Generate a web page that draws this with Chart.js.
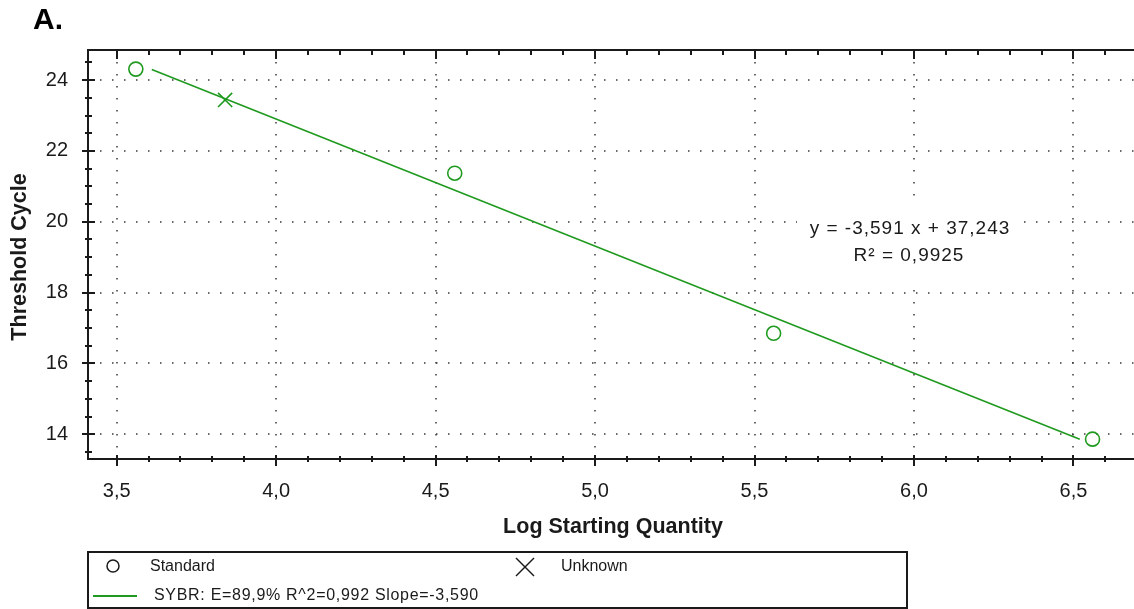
<!DOCTYPE html>
<html>
<head>
<meta charset="utf-8">
<script src="https://cdn.jsdelivr.net/npm/chart.js@4.4.1/dist/chart.umd.min.js"></script>
<style>
  html, body { margin: 0; padding: 0; background: #fff; }
  #curve { display: block; }
</style>
</head>
<body>
<canvas id="curve" width="1134" height="609"></canvas>
<script>
// standard curve data
const standardX = [3.56, 4.56, 5.56, 6.56];
const standardY = [24.31, 21.37, 16.85, 13.86];
const unknownX = [3.84];
const unknownY = [23.44];
const fitX = [3.61, 6.52];
const fitY = [24.30, 13.86];

const xTickValues = [3.5, 4.0, 4.5, 5.0, 5.5, 6.0, 6.5];
const yTickValues = [14, 16, 18, 20, 22, 24];

const equationText = 'y = -3,591 x + 37,243';
const r2Text = 'R² = 0,9925';
const legendStandard = 'Standard';
const legendUnknown = 'Unknown';
const legendFit = 'SYBR: E=89,9% R^2=0,992 Slope=-3,590';

const GREEN = '#1f9a1f';
const INK = '#1a1a1a';
const FONT = '"Liberation Sans", Arial, sans-serif';

const toPoints = (xs, ys) => xs.map((x, i) => ({ x: x, y: ys[i] }));

const frame = {
  id: 'frame',
  beforeDraw(chart) {
    const ctx = chart.ctx;
    ctx.save();
    ctx.fillStyle = '#fff';
    ctx.fillRect(0, 0, chart.width, chart.height);
    ctx.restore();
  },
  beforeDatasetsDraw(chart) {
    const { ctx, chartArea: a, scales: { x, y } } = chart;
    ctx.save();
    // dotted grid
    ctx.strokeStyle = '#3a3a3a';
    ctx.lineWidth = 1.5;
    ctx.setLineDash([1.5, 10.5]);
    xTickValues.forEach((v) => {
      const px = Math.round(x.getPixelForValue(v));
      ctx.beginPath();
      ctx.moveTo(px, a.top);
      ctx.lineTo(px, a.bottom);
      ctx.stroke();
    });
    yTickValues.forEach((v) => {
      const py = Math.round(y.getPixelForValue(v));
      ctx.beginPath();
      ctx.moveTo(a.left, py);
      ctx.lineTo(a.right, py);
      ctx.stroke();
    });
    ctx.setLineDash([]);
    // white box behind the equation
    ctx.fillStyle = '#fff';
    ctx.fillRect(797, 200, 226, 83);
    ctx.restore();
  },
  afterDraw(chart) {
    const { ctx, chartArea: a, scales: { x, y } } = chart;
    ctx.save();
    ctx.strokeStyle = INK;
    ctx.lineWidth = 2;
    const seg = (x1, y1, x2, y2) => {
      ctx.beginPath();
      ctx.moveTo(x1, y1);
      ctx.lineTo(x2, y2);
      ctx.stroke();
    };
    // axis lines
    seg(a.left, a.bottom, a.right, a.bottom);
    seg(a.left, a.top - 1, a.left, a.bottom + 1);
    seg(a.left, a.top, a.right, a.top);

    // x ticks (bottom + top)
    for (let k = 35; k <= 66; k++) {
      const px = Math.round(x.getPixelForValue(k / 10));
      const major = k % 5 === 0;
      if (major) {
        seg(px, a.bottom - 4, px, a.bottom + 7);
        seg(px, a.top, px, a.top + 9);
      } else {
        seg(px, a.bottom - 3, px, a.bottom + 3);
        seg(px, a.top, px, a.top + 5);
      }
    }
    // y ticks
    for (let k = 27; k <= 49; k++) {
      const py = Math.round(y.getPixelForValue(k / 2));
      if (k % 4 === 0) seg(a.left - 6, py, a.left + 7, py);
      else seg(a.left - 3, py, a.left + 4, py);
    }

    // panel label
    ctx.fillStyle = '#000';
    ctx.font = 'bold 30px ' + FONT;
    ctx.textAlign = 'left';
    ctx.textBaseline = 'alphabetic';
    ctx.fillText('A.', 33, 29);

    // axis titles
    ctx.fillStyle = INK;
    ctx.font = 'bold 21.5px ' + FONT;
    ctx.textAlign = 'center';
    ctx.textBaseline = 'middle';
    ctx.fillText('Log Starting Quantity', 613, 527);
    ctx.save();
    ctx.translate(20, 257);
    ctx.rotate(-Math.PI / 2);
    ctx.fillText('Threshold Cycle', 0, 0);
    ctx.restore();

    // regression equation
    ctx.font = '19px ' + FONT;
    ctx.save();
    ctx.letterSpacing = '1px';
    ctx.fillText(equationText, 910, 229);
    ctx.fillText(r2Text, 909, 256);
    ctx.restore();

    // legend box
    ctx.lineWidth = 2;
    ctx.strokeRect(88, 552, 819, 56);
    ctx.font = '16px ' + FONT;
    ctx.textAlign = 'left';
    ctx.fillText(legendStandard, 150, 567);
    ctx.fillText(legendUnknown, 561, 567);
    ctx.save();
    ctx.letterSpacing = '0.7px';
    ctx.fillText(legendFit, 154, 596);
    ctx.restore();
    // legend symbols
    ctx.lineWidth = 1.5;
    ctx.beginPath();
    ctx.arc(113, 566, 6, 0, Math.PI * 2);
    ctx.stroke();
    seg(516, 558, 534, 576);
    seg(516, 576, 534, 558);
    ctx.strokeStyle = GREEN;
    ctx.lineWidth = 2;
    seg(93, 596, 137, 596);
    ctx.restore();
  },
};

new Chart(document.getElementById('curve'), {
  type: 'scatter',
  data: {
    datasets: [
      {
        label: 'fit',
        data: toPoints(fitX, fitY),
        showLine: true,
        borderColor: GREEN,
        borderWidth: 1.6,
        pointRadius: 0,
        fill: false,
      },
      {
        label: 'Standard',
        data: toPoints(standardX, standardY),
        pointStyle: 'circle',
        pointRadius: 7,
        borderWidth: 1.6,
        borderColor: GREEN,
        backgroundColor: 'rgba(0,0,0,0)',
      },
      {
        label: 'Unknown',
        data: toPoints(unknownX, unknownY),
        pointStyle: 'crossRot',
        pointRadius: 10,
        borderWidth: 1.6,
        borderColor: GREEN,
      },
    ],
  },
  options: {
    responsive: false,
    animation: false,
    devicePixelRatio: 1,
    layout: { autoPadding: false, padding: { top: 50, left: 0, right: 0, bottom: 0 } },
    plugins: { legend: { display: false }, tooltip: { enabled: false } },
    scales: {
      x: {
        type: 'linear',
        min: 3.41,
        max: 6.69,
        afterBuildTicks: (s) => { s.ticks = xTickValues.map((v) => ({ value: v })); },
        afterFit: (s) => { s.height = 150; },
        grid: { display: false, drawTicks: false },
        border: { display: false },
        ticks: {
          autoSkip: false,
          maxRotation: 0,
          padding: 20,
          color: INK,
          font: { family: FONT, size: 20 },
          callback: (v) => Number(v).toFixed(1).replace('.', ','),
        },
      },
      y: {
        type: 'linear',
        min: 13.3,
        max: 24.85,
        afterBuildTicks: (s) => { s.ticks = yTickValues.map((v) => ({ value: v })); },
        afterFit: (s) => { s.width = 88; },
        grid: { display: false, drawTicks: false },
        border: { display: false },
        ticks: {
          padding: 20,
          color: INK,
          font: { family: FONT, size: 20 },
          callback: (v) => String(v),
        },
      },
    },
  },
  plugins: [frame],
});
</script>
</body>
</html>
